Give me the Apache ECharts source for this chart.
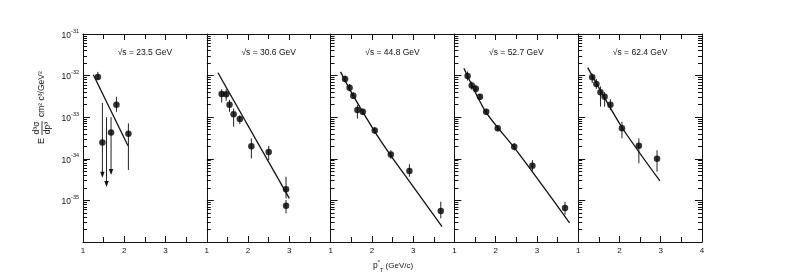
<!DOCTYPE html>
<html><head><meta charset="utf-8">
<script src="https://cdn.jsdelivr.net/npm/echarts@6/dist/echarts.min.js"></script>
<style>html,body{margin:0;padding:0;background:#fff}#c{width:789px;height:273px}</style>
</head><body><div id="c"></div>
<script>
// ---- data (cross sections in cm^2 c^3 / GeV^2, pT in GeV/c) ----
const energies = ['23.5', '30.6', '44.8', '52.7', '62.4'];
const xTickLabels = [1, 2, 3, 4];
const yDecadeExps = [-36, -35, -34, -33, -32, -31];
const minorMantissas = [2, 3, 4, 5, 6, 7, 8, 9];

// panel 1: sqrt(s) = 23.5 GeV
const p1X = [1.36, 1.47, 1.68, 1.81, 2.10];
const p1Y = [9.3e-33, 2.45e-34, 4.3e-34, 2.0e-33, 4.0e-34];
const e1X = [1.36, 1.47, 1.57, 1.68, 1.81, 2.10];
const e1Hi = [1.23e-32, 2.2e-33, 1.0e-33, 1.0e-33, 3.1e-33, 7.1e-34];
const e1Lo = [7.9e-33, 3.5e-35, 2.1e-35, 4.1e-35, 1.35e-33, 5.4e-35];
const e1Arrow = [0, 1, 1, 1, 0, 0];
const f1X = [1.25, 2.09];
const f1Y = [1.05e-32, 2.05e-34];

// panel 2: sqrt(s) = 30.6 GeV
const p2X = [1.36, 1.47, 1.55, 1.65, 1.80, 2.08, 2.50, 2.92, 2.92];
const p2Y = [3.6e-33, 3.55e-33, 2.0e-33, 1.17e-33, 9.1e-34, 2.0e-34, 1.45e-34, 1.86e-35, 7.4e-36];
const e2Hi = [4.7e-33, 4.7e-33, 2.6e-33, 1.6e-33, 1.1e-33, 3.1e-34, 2.05e-34, 3.7e-35, 1.02e-35];
const e2Lo = [2.25e-33, 2.5e-33, 1.35e-33, 5.9e-34, 6.9e-34, 1.02e-34, 9.3e-35, 1.12e-35, 4.9e-36];
const f2X = [1.27, 3.0];
const f2Y = [1.17e-32, 1.12e-35];

// panel 3: sqrt(s) = 44.8 GeV
const p3X = [1.35, 1.46, 1.55, 1.65, 1.78, 2.07, 2.46, 2.91, 3.67];
const p3Y = [8.3e-33, 5.1e-33, 3.3e-33, 1.48e-33, 1.35e-33, 4.8e-34, 1.26e-34, 5.1e-35, 5.6e-36];
const e3Hi = [1.0e-32, 6.3e-33, 4.0e-33, 1.95e-33, 1.6e-33, 5.8e-34, 1.6e-34, 7.4e-35, 9.3e-36];
const e3Lo = [6.9e-33, 4.2e-33, 2.75e-33, 9.3e-34, 1.12e-33, 4.0e-34, 1.0e-34, 3.7e-35, 3.7e-36];
const f3X = [1.24, 1.54, 2.07, 2.45, 2.94, 3.70];
const f3Y = [1.23e-32, 3.4e-33, 4.5e-34, 1.23e-34, 2.6e-35, 2.35e-36];

// panel 4: sqrt(s) = 52.7 GeV
const p4X = [1.32, 1.42, 1.52, 1.62, 1.77, 2.05, 2.45, 2.89, 3.68];
const p4Y = [9.8e-33, 5.75e-33, 4.8e-33, 3.1e-33, 1.35e-33, 5.4e-34, 1.95e-34, 6.8e-35, 6.6e-36];
const e4Hi = [1.26e-32, 7.2e-33, 6.0e-33, 3.6e-33, 1.58e-33, 6.3e-34, 2.4e-34, 9.3e-35, 9.3e-36];
const e4Lo = [7.6e-33, 4.6e-33, 3.8e-33, 2.6e-33, 1.15e-33, 4.6e-34, 1.58e-34, 5.1e-35, 4.5e-36];
const f4X = [1.23, 1.76, 2.45, 2.98, 3.79];
const f4Y = [1.51e-32, 1.35e-33, 1.86e-34, 3.7e-35, 2.9e-36];

// panel 5: sqrt(s) = 62.4 GeV
const p5X = [1.34, 1.44, 1.54, 1.64, 1.78, 2.06, 2.47, 2.91];
const p5Y = [9.1e-33, 6.3e-33, 4.0e-33, 3.1e-33, 2.0e-33, 5.4e-34, 2.05e-34, 1.0e-34];
const e5Hi = [1.12e-32, 8.3e-33, 5.5e-33, 4.0e-33, 2.7e-33, 7.8e-34, 3.1e-34, 1.6e-34];
const e5Lo = [6.6e-33, 4.8e-33, 1.8e-33, 1.8e-33, 1.48e-33, 3.1e-34, 7.8e-35, 4.9e-35];
const f5X = [1.23, 2.05, 2.98];
const f5Y = [1.55e-32, 5.9e-34, 2.95e-35];

// ---- build ----
const panels = [
  {px: p1X, py: p1Y, ex: e1X, hi: e1Hi, lo: e1Lo, ar: e1Arrow, fx: f1X, fy: f1Y},
  {px: p2X, py: p2Y, ex: p2X, hi: e2Hi, lo: e2Lo, ar: null, fx: f2X, fy: f2Y},
  {px: p3X, py: p3Y, ex: p3X, hi: e3Hi, lo: e3Lo, ar: null, fx: f3X, fy: f3Y},
  {px: p4X, py: p4Y, ex: p4X, hi: e4Hi, lo: e4Lo, ar: null, fx: f4X, fy: f4Y},
  {px: p5X, py: p5Y, ex: p5X, hi: e5Hi, lo: e5Lo, ar: null, fx: f5X, fy: f5Y}
];
const L = Math.log10;
const FONT = 'Liberation Sans';
const INK = '#111';
const LEFT = 83, RIGHT = 702, TOP = 34, BOTTOM = 242;
const W = (RIGHT - LEFT) / 5;
const xMin = xTickLabels[0], xMax = xTickLabels[xTickLabels.length - 1];
const yMin = yDecadeExps[0], yMax = yDecadeExps[yDecadeExps.length - 1];
const minorVals = [];
for (let n = yMin; n < yMax; n++) minorMantissas.forEach(m => minorVals.push(n + L(m)));

const grids = [], xAxes = [], yAxes = [], series = [], graphics = [];
const lineStyle = {color: INK, width: 1};

function minorYAxis(i, pos) {
  return {
    type: 'value', gridIndex: i, min: yMin, max: yMax, position: pos,
    axisLine: {show: false},
    axisTick: {show: true, inside: true, length: 4, lineStyle: lineStyle, customValues: minorVals},
    splitLine: {show: false}, axisLabel: {show: false}
  };
}
function majorYAxis(i, pos, labels) {
  return {
    type: 'value', gridIndex: i, min: yMin, max: yMax, interval: 1, position: pos,
    axisLine: {show: true, lineStyle: lineStyle},
    axisTick: {show: true, inside: true, length: 7, lineStyle: lineStyle},
    splitLine: {show: false},
    axisLabel: {show: labels, margin: 4, color: INK, fontFamily: FONT,
      formatter: v => v === yMin ? '' : '{b|10}{s|' + v + '}',
      rich: {b: {fontSize: 8.5, fontFamily: FONT, color: INK, lineHeight: 12, verticalAlign: 'bottom'},
             s: {fontSize: 5.5, fontFamily: FONT, color: INK, lineHeight: 12, verticalAlign: 'top'}}}
  };
}
function xAxis(i, pos, last) {
  return {
    type: 'value', gridIndex: i, min: xMin, max: xMax, interval: 1, position: pos,
    axisLine: {show: true, lineStyle: lineStyle},
    axisTick: {show: true, inside: true, length: 6, lineStyle: lineStyle},
    minorTick: {show: true, splitNumber: 2, length: 5, lineStyle: lineStyle},
    splitLine: {show: false},
    axisLabel: {show: pos === 'bottom', margin: 5, fontSize: 8, color: INK, fontFamily: FONT,
      showMinLabel: true, showMaxLabel: true,
      formatter: v => (v === xMax && !last) ? '' : String(v)}
  };
}

panels.forEach((p, i) => {
  grids.push({left: LEFT + i * W, width: W, top: TOP, height: BOTTOM - TOP, show: false});
  const last = i === panels.length - 1;
  const xb = xAxes.length;
  xAxes.push(xAxis(i, 'bottom', last));
  xAxes.push(xAxis(i, 'top', last));
  const yb = yAxes.length;
  yAxes.push(majorYAxis(i, 'left', i === 0));
  yAxes.push(minorYAxis(i, 'left'));
  if (last) {
    yAxes.push(majorYAxis(i, 'right', false));
    yAxes.push(minorYAxis(i, 'right'));
  }
  // fit curve
  series.push({
    type: 'line', xAxisIndex: xb, yAxisIndex: yb, showSymbol: false, smooth: 0.25,
    silent: true, lineStyle: {color: INK, width: 1.3},
    data: p.fx.map((x, k) => [x, L(p.fy[k])])
  });
  // error bars
  series.push({
    type: 'custom', xAxisIndex: xb, yAxisIndex: yb, silent: true,
    data: p.ex.map((x, k) => [x, L(p.hi[k]), L(p.lo[k]), p.ar ? p.ar[k] : 0]),
    renderItem: (params, api) => {
      const a = api.coord([api.value(0), api.value(1)]);
      const b = api.coord([api.value(0), api.value(2)]);
      const arrow = api.value(3) === 1;
      const children = [{
        type: 'line', shape: {x1: a[0], y1: a[1], x2: b[0], y2: arrow ? b[1] - 4 : b[1]},
        style: {stroke: '#222', lineWidth: 1}
      }];
      if (arrow) children.push({
        type: 'polygon', shape: {points: [[b[0] - 2.2, b[1] - 6], [b[0] + 2.2, b[1] - 6], [b[0], b[1]]]},
        style: {fill: '#111'}
      });
      return {type: 'group', children: children};
    }
  });
  // data points
  series.push({
    type: 'scatter', xAxisIndex: xb, yAxisIndex: yb, symbol: 'circle', symbolSize: 6.5, silent: true,
    itemStyle: {color: '#000'},
    data: p.px.map((x, k) => [x, L(p.py[k])])
  });
  graphics.push({
    type: 'text', x: LEFT + i * W + W / 2, y: 53,
    style: {text: '\u221As = ' + energies[i] + ' GeV', align: 'center', verticalAlign: 'middle',
      fontSize: 8.5, fontFamily: FONT, fill: INK}
  });
});

// axis titles
graphics.push({
  type: 'text', x: 393, y: 266,
  style: {text: '{p|p}{s|*}{t|T} (GeV/c)', align: 'center', verticalAlign: 'middle', fontSize: 8,
    fontFamily: FONT, fill: INK,
    rich: {p: {fontSize: 8.5, fontFamily: FONT, lineHeight: 14, verticalAlign: 'middle'},
           s: {fontSize: 6, fontFamily: FONT, lineHeight: 14, verticalAlign: 'top'},
           t: {fontSize: 5.5, fontFamily: FONT, lineHeight: 14, verticalAlign: 'bottom'}}}
});
graphics.push({
  type: 'group', x: 42, y: 141, rotation: Math.PI / 2,
  children: [
    {type: 'text', x: 0, y: 0, style: {text: 'E', align: 'center', verticalAlign: 'middle', fontSize: 9, fontFamily: FONT, fill: INK}},
    {type: 'text', x: 13, y: -5, style: {text: 'd\u00B3\u03C3', align: 'center', verticalAlign: 'middle', fontSize: 8.5, fontFamily: FONT, fill: INK}},
    {type: 'line', shape: {x1: 6, y1: 0, x2: 20, y2: 0}, style: {stroke: INK, lineWidth: 0.8}},
    {type: 'text', x: 13, y: 5.5, style: {text: 'dp\u00B3', align: 'center', verticalAlign: 'middle', fontSize: 8.5, fontFamily: FONT, fill: INK}},
    {type: 'text', x: 24, y: 0, style: {text: 'cm\u00B2 c\u00B3/GeV\u00B2', align: 'left', verticalAlign: 'middle', fontSize: 8.5, fontFamily: FONT, fill: INK}}
  ]
});

const chart = echarts.init(document.getElementById('c'), null, {renderer: 'canvas'});
chart.setOption({
  animation: false,
  backgroundColor: '#fff',
  grid: grids, xAxis: xAxes, yAxis: yAxes, series: series, graphic: graphics
});
</script></body></html>
